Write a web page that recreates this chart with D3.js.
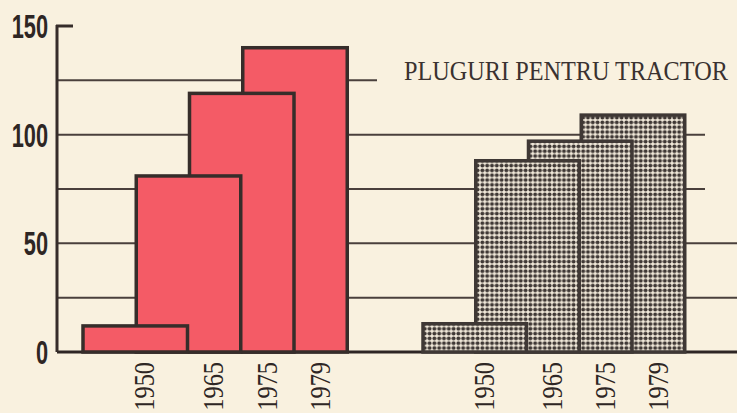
<!DOCTYPE html>
<html>
<head>
<meta charset="utf-8">
<script src="https://cdn.jsdelivr.net/npm/d3@7"></script>
<style>
  html, body { margin: 0; padding: 0; background: #f9f1df; }
  svg { display: block; }
</style>
</head>
<body>
<div id="container"></div>
<script>
var WIDTH = 737,
	HEIGHT = 413;

// data
var years = ["1950", "1965", "1975", "1979"];
var redValues = [12, 81, 119, 140];
var dotValues = [13, 88, 97, 109];
var yTicks = [0, 50, 100, 150];
var gridValues = [0, 25, 50, 75, 100, 125];
var title = "PLUGURI PENTRU TRACTOR";

var yScale = d3.scaleLinear().domain([0, 150]).range([352, 26]);
var xLeft = d3.scaleBand().domain(years).range([83, 296]);
var xRight = d3.scaleBand().domain(years).range([423, 634]);

var LINE = "#362d2a";

var translate = function (x, y) {
	return "translate(" + x + "," + y + ")";
};

function gridEnd(v) {
	if (v >= 125) return 377;
	if (v >= 75) return 705;
	return 737;
}

function drawGrid(svg) {
	svg.append('g').selectAll('line').data(gridValues).enter()
		.append('line')
		.attr('x1', 57)
		.attr('x2', function(d){ return gridEnd(d) })
		.attr('y1', function(d){ return yScale(d) })
		.attr('y2', function(d){ return yScale(d) })
		.attr('stroke', function(d){ return d === 0 ? '#2e2624' : '#4a403c' })
		.attr('stroke-width', function(d){ return d === 0 ? 3 : 2 });
}

function drawAxis(svg) {
	svg.append('line')
		.attr('x1', 57).attr('x2', 57)
		.attr('y1', yScale(150) - 1).attr('y2', yScale(0))
		.attr('stroke', LINE).attr('stroke-width', 3);
	svg.append('line')
		.attr('x1', 56).attr('x2', 73)
		.attr('y1', yScale(150)).attr('y2', yScale(150))
		.attr('stroke', LINE).attr('stroke-width', 3);
	svg.append('g').selectAll('text').data(yTicks).enter()
		.append('text')
		.attr('transform', function(d){ return translate(48, yScale(d) + 12) + " scale(0.64,1)" })
		.attr('text-anchor', 'end')
		.attr('font-family', 'Liberation Sans, Arial, sans-serif')
		.attr('font-weight', 'bold')
		.attr('font-size', 34)
		.attr('fill', '#2e2624')
		.text(function(d){ return d });
}

function drawBars(svg, values, xScale, fill, stroke) {
	var step = xScale.step();
	var rows = years.map(function(y, i){ return { year: y, value: values[i], i: i } });
	// later years sit behind the earlier ones
	svg.append('g').selectAll('rect').data(rows.slice().reverse()).enter()
		.append('rect')
		.attr('x', function(d){ return xScale(d.year) })
		.attr('y', function(d){ return yScale(d.value) })
		.attr('width', 2 * step - 2)
		.attr('height', function(d){ return yScale(0) - yScale(d.value) })
		.attr('fill', fill)
		.attr('stroke', stroke)
		.attr('stroke-width', 3.5);
	svg.append('g').selectAll('text').data(rows).enter()
		.append('text')
		.attr('transform', function(d){
			var x = xScale(d.year) + (d.i === 0 ? 1.15 * step : 1.45 * step);
			return translate(x, 362) + " rotate(-90) scale(0.84,1)";
		})
		.attr('dy', '0.34em')
		.attr('text-anchor', 'end')
		.attr('font-family', 'Liberation Serif, Times New Roman, serif')
		.attr('font-size', 29)
		.attr('fill', '#2e2624')
		.text(function(d){ return d.year });
}

function drawChart() {
	var svg = d3.select('#container')
		.append('svg')
		.attr('width', WIDTH)
		.attr('height', HEIGHT);

	var defs = svg.append('defs');
	var pat = defs.append('pattern')
		.attr('id', 'dots')
		.attr('patternUnits', 'userSpaceOnUse')
		.attr('width', 4.8)
		.attr('height', 4.8);
	pat.append('rect').attr('width', 4.8).attr('height', 4.8).attr('fill', '#f1e9da');
	pat.append('circle').attr('cx', 2.4).attr('cy', 2.4).attr('r', 2.0).attr('fill', '#3f3835');

	drawGrid(svg);
	drawBars(svg, redValues, xLeft, '#f45b66', LINE);
	drawBars(svg, dotValues, xRight, 'url(#dots)', '#3f3835');
	drawAxis(svg);

	var t = svg.append('text')
		.attr('font-family', 'Liberation Serif, Times New Roman, serif')
		.attr('font-size', 27)
		.attr('fill', '#3a3230')
		.text(title);
	var w = t.node().getComputedTextLength();
	t.attr('transform', translate(404, 80) + " scale(" + (324 / w) + ",1)");
}

window.onload = drawChart;
</script>
</body>
</html>
